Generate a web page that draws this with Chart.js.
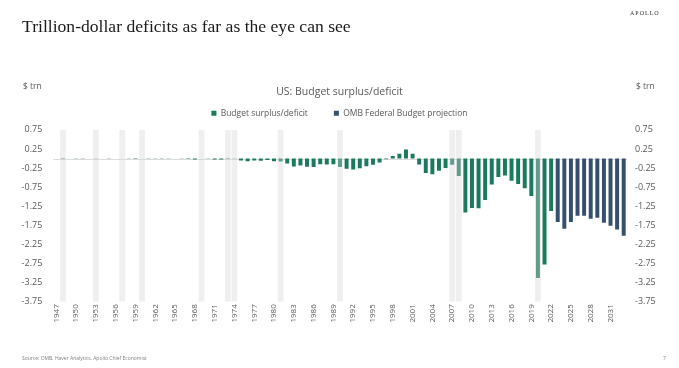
<!DOCTYPE html>
<html>
<head>
<meta charset="utf-8">
<script src="https://cdn.jsdelivr.net/npm/chart.js@4"></script>
<style>
  body { margin: 0; background: #fff; }
  #page { position: relative; width: 679px; height: 368px; overflow: hidden; background: #fff; }
  #c { position: absolute; left: 0; top: 0; }
  .txt { position: absolute; white-space: nowrap; }
  #headline { left: 22px; top: 18px; font-family: "Liberation Serif", serif; font-size: 17.6px; line-height: 1; color: #1a1a1a; }
  #logo { left: 630px; top: 10px; font-family: "Liberation Serif", serif; font-size: 6px; letter-spacing: 1px; color: #333; }
  .unit { top: 80px; font-family: "Open Sans", sans-serif; font-size: 8.5px; color: #595959; }
  #src { left: 22px; top: 355px; font-family: "Open Sans", sans-serif; font-size: 5px; color: #7f7f7f; }
  #pg { left: 663px; top: 355px; font-family: "Open Sans", sans-serif; font-size: 5px; color: #7f7f7f; }
</style>
</head>
<body>
<div id="page">
  <canvas id="c" width="679" height="368"></canvas>
  <div class="txt" id="headline">Trillion-dollar deficits as far as the eye can see</div>
  <div class="txt" id="logo">APOLLO</div>
  <div class="txt unit" style="left:23px">$ trn</div>
  <div class="txt unit" style="left:636px">$ trn</div>
  <div class="txt" id="src">Source: OMB, Haver Analytics, Apollo Chief Economist</div>
  <div class="txt" id="pg">7</div>
</div>
<script>
// ---------------------- data ---------------------
var years = [
  1947, 1948, 1949, 1950, 1951, 1952, 1953, 1954, 1955, 1956,
  1957, 1958, 1959, 1960, 1961, 1962, 1963, 1964, 1965, 1966,
  1967, 1968, 1969, 1970, 1971, 1972, 1973, 1974, 1975, 1976,
  1977, 1978, 1979, 1980, 1981, 1982, 1983, 1984, 1985, 1986,
  1987, 1988, 1989, 1990, 1991, 1992, 1993, 1994, 1995, 1996,
  1997, 1998, 1999, 2000, 2001, 2002, 2003, 2004, 2005, 2006,
  2007, 2008, 2009, 2010, 2011, 2012, 2013, 2014, 2015, 2016,
  2017, 2018, 2019, 2020, 2021, 2022, 2023, 2024, 2025, 2026,
  2027, 2028, 2029, 2030, 2031, 2032, 2033
];

// actual surplus/deficit, $ trn, 1947-2022
var actual = [
  0.004, 0.012, 0.001, -0.003, 0.006, -0.002, -0.007, -0.001, -0.003, 0.004,
  0.003, -0.003, -0.013, 0.000, -0.003, -0.007, -0.005, -0.006, -0.001, -0.004,
  -0.009, -0.025, 0.003, -0.003, -0.023, -0.023, -0.015, -0.006, -0.053, -0.074,
  -0.054, -0.059, -0.041, -0.074, -0.079, -0.128, -0.208, -0.185, -0.212, -0.221,
  -0.150, -0.155, -0.153, -0.221, -0.269, -0.290, -0.255, -0.203, -0.164, -0.107,
  -0.022, 0.069, 0.126, 0.236, 0.128, -0.158, -0.378, -0.413, -0.318, -0.248,
  -0.161, -0.459, -1.413, -1.294, -1.300, -1.087, -0.680, -0.485, -0.442, -0.585,
  -0.665, -0.779, -0.984, -3.132, -2.775, -1.376
];

// OMB projection, $ trn, 2023-2033
var projection = [-1.66, -1.84, -1.66, -1.50, -1.50, -1.58, -1.55, -1.68, -1.76, -1.86, -2.02];

// shaded years
var recessionYears = [1948, 1953, 1957, 1960, 1969, 1973, 1974, 1981, 1990, 2007, 2008, 2020];

var yMin = -3.75;
var yMax = 0.75;

var green = "#1a7a5d";
var navy = "#34506e";

// ---------------------- build series ---------------------
var actualData = years.map(function (y, i) { return i < actual.length ? actual[i] : null; });
var projData = years.map(function (y, i) { return i >= actual.length ? projection[i - actual.length] : null; });
var shadeData = years.map(function (y) { return recessionYears.indexOf(y) >= 0 ? [yMin, yMax] : null; });

var zeroLine = {
  id: "zeroLine",
  beforeDatasetsDraw: function (chart) {
    var ctx = chart.ctx, a = chart.chartArea;
    var y = Math.round(chart.scales.y.getPixelForValue(0)) + 0.5;
    ctx.save();
    ctx.strokeStyle = "#dcdcdc";
    ctx.lineWidth = 1;
    ctx.beginPath();
    ctx.moveTo(a.left, y);
    ctx.lineTo(a.right, y);
    ctx.stroke();
    ctx.restore();
  }
};

Chart.defaults.font.family = "'Open Sans', sans-serif";
Chart.defaults.color = "#595959";

new Chart("c", {
  type: "bar",
  data: {
    labels: years,
    datasets: [{
      label: "Budget surplus/deficit",
      data: actualData,
      backgroundColor: green,
      barPercentage: 0.6,
      categoryPercentage: 1,
      grouped: false,
      order: 1
    }, {
      label: "OMB Federal Budget projection",
      data: projData,
      backgroundColor: navy,
      barPercentage: 0.6,
      categoryPercentage: 1,
      grouped: false,
      order: 1
    }, {
      label: "recession",
      data: shadeData,
      backgroundColor: "rgba(212,212,212,0.38)",
      barPercentage: 0.88,
      categoryPercentage: 1,
      grouped: false,
      order: 0
    }]
  },
  options: {
    responsive: false,
    animation: false,
    devicePixelRatio: 1,
    layout: { padding: { top: 85.4, left: 0, right: 0, bottom: 0 } },
    plugins: {
      title: {
        display: true,
        text: "US: Budget surplus/deficit",
        font: { size: 10.5, weight: "normal" },
        color: "#595959",
        padding: { top: 0, bottom: -15 }
      },
      legend: {
        position: "top",
        labels: {
          boxWidth: 5,
          boxHeight: 5,
          padding: 26,
          font: { size: 8.5 },
          color: "#595959",
          filter: function (item) { return item.text !== "recession"; }
        }
      },
      tooltip: { enabled: false }
    },
    scales: {
      x: {
        grid: { display: false, drawTicks: false },
        border: { display: false },
        ticks: {
          autoSkip: false,
          minRotation: 90,
          maxRotation: 90,
          padding: 5,
          font: { size: 8 },
          color: "#595959",
          callback: function (v, i) { return (years[i] - 1947) % 3 === 0 ? String(years[i]) : ""; }
        },
        afterFit: function (s) { s.height = 66.3; }
      },
      y: {
        position: "left",
        min: yMin,
        max: yMax,
        grid: { display: false, drawTicks: false },
        border: { display: false },
        ticks: {
          stepSize: 0.5,
          padding: 10.7,
          font: { size: 9 },
          color: "#595959",
          callback: function (v) { return v.toFixed(2); }
        },
        afterFit: function (s) { s.width = 53; }
      },
      y2: {
        position: "right",
        min: yMin,
        max: yMax,
        grid: { display: false, drawTicks: false },
        border: { display: false },
        ticks: {
          stepSize: 0.5,
          padding: 8,
          font: { size: 9 },
          color: "#595959",
          callback: function (v) { return v.toFixed(2); }
        },
        afterFit: function (s) { s.width = 52; }
      }
    }
  },
  plugins: [zeroLine]
});
</script>
</body>
</html>
